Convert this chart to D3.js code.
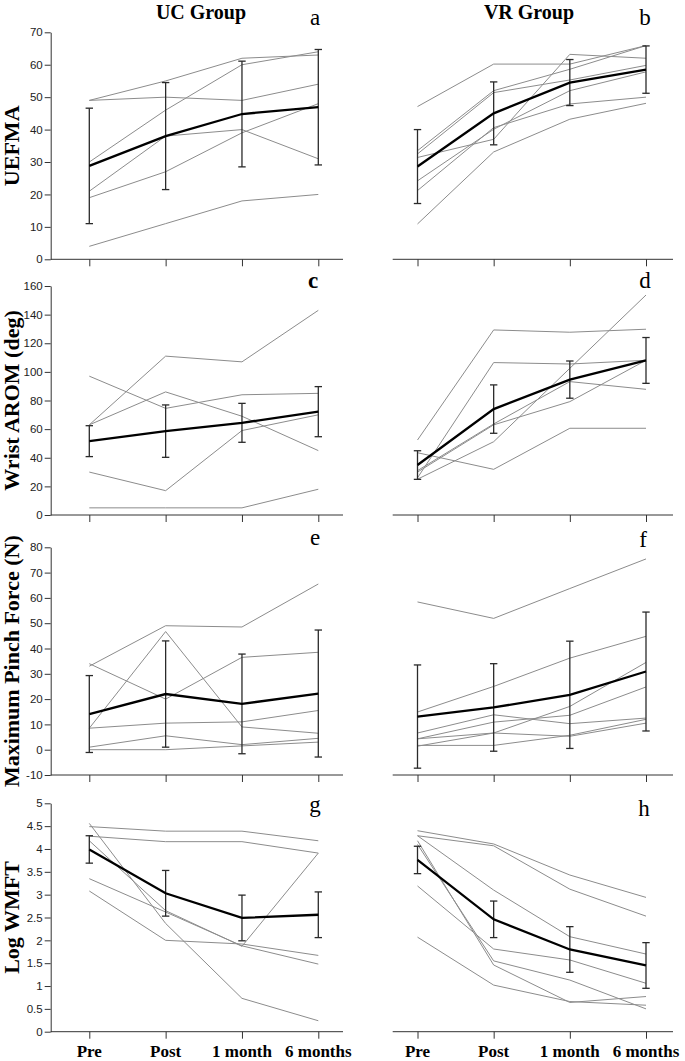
<!DOCTYPE html>
<html>
<head>
<meta charset="utf-8">
<script src="https://cdn.jsdelivr.net/npm/d3@7"></script>
<style>
  body { margin: 0; background: #fff; }
  svg { display: block; }
  .tick text { font-family: "Liberation Sans", Arial, sans-serif; font-size: 11.5px; fill: #222; }
  .tick line, .domain { stroke: #333; }
</style>
</head>
<body>
<script>
var W = 685, H = 1061;

var cats = ["Pre", "Post", "1 month", "6 months"];
var groups = ["UC Group", "VR Group"];
var yLabels = ["UEFMA", "Wrist AROM (deg)", "Maximum Pinch Force (N)", "Log WMFT"];
var tags = ["a", "b", "c", "d", "e", "f", "g", "h"];

// UEFMA
var ucUefma = [[49, 55, 62, 63], [49, 50, 49, 54], [30, 46, 60, 64], [21, 38, 40, 31], [19, 27, 39, 48], [4, 11, 18, 20]];
var ucUefmaMean = [28.8, 38, 44.8, 46.9];
var ucUefmaSd = [17.8, 16.5, 16.3, 17.8];
var vrUefma = [[47.1, 60.2, 60.2, 65.9], [33.5, 52, 58.6, 65.9], [31.4, 37, 63.2, 62], [32.5, 51.4, 55.3, 59.8],
               [24.2, 40.1, 52, 57.8], [21.2, 40.6, 47.9, 50], [10.9, 33.1, 43.2, 48.1]];
var vrUefmaMean = [28.6, 45, 54.5, 58.5];
var vrUefmaSd = [11.4, 9.7, 7.1, 7.3];

// wrist AROM
var ucWrist = [[63, 111, 107, 143], [63, 86, 69, 45], [97, 74.5, 84, 85], [30, 17, 59, 70], [5, 5, 5, 18]];
var ucWristMean = [51.6, 58.6, 64.4, 72.2];
var ucWristSd = [10.8, 18.3, 13.6, 17.5];
var vrWrist = [[52.4, 129.3, 127.7, 129.8], [26, 106.5, 105.5, 108.1], [25, 51.2, 102.5, 153.7],
               [43.5, 31.9, 60.6, 60.6], [31, 63.6, 93.2, 87.8], [30, 63, 79.2, 108.1]];
var vrWristMean = [34.9, 74, 94.6, 108];
var vrWristSd = [10, 16.9, 13, 16];

// pinch force
var ucPinch = [[33, 49, 48.5, 65.5], [34, 20, 36.5, 38.5], [8.5, 46.7, 9, 6.5], [8.5, 10.5, 11, 15.5],
               [1, 5.5, 2, 4.5], [0, 0, 1.5, 3]];
var ucPinchMean = [14.1, 22, 18.1, 22.2];
var ucPinchSd = [15.2, 21, 19.7, 25.1];
var vrPinch = [[58.4, 51.9, 63.7, 75.4], [14.9, 25, 36.2, 44.8], [6.6, 13.8, 10.3, 12.5], [4.3, 10.9, 13.6, 24.8],
               [4.3, 6.6, 17.1, 34.5], [1.7, 1.7, 5.7, 12], [1.4, 6.6, 5.3, 10.5]];
var vrPinchMean = [13.1, 16.7, 21.7, 30.9];
var vrPinchSd = [20.4, 17.3, 21.2, 23.5];

// log WMFT
var ucWmft = [[4.49, 4.39, 4.39, 4.18], [4.28, 4.16, 4.16, 3.91], [4.56, 2.37, 0.73, 0.24], [4.18, 2.65, 1.87, 3.91],
              [3.35, 2.62, 1.88, 1.48], [3.08, 2.0, 1.92, 1.67]];
var ucWmftMean = [3.99, 3.03, 2.49, 2.56];
var ucWmftSd = [0.3, 0.5, 0.5, 0.5];
var vrWmft = [[4.40, 4.11, 3.43, 2.94], [4.29, 4.07, 3.12, 2.53], [4.29, 3.10, 2.08, 1.70], [4.18, 1.46, 0.64, 0.77],
              [4.1, 1.55, 1.13, 0.50], [3.19, 1.81, 1.57, 1.06], [2.07, 1.02, 0.66, 0.58]];
var vrWmftMean = [3.76, 2.46, 1.80, 1.45];
var vrWmftSd = [0.3, 0.4, 0.5, 0.5];

var yDomains = [[0, 70], [0, 160], [-10, 80], [0, 5]];
var yTicks = [d3.range(0, 71, 10), d3.range(0, 161, 20), d3.range(-10, 81, 10), d3.range(0, 5.01, 0.5)];

var panels = [
  [{lines: ucUefma, mean: ucUefmaMean, sd: ucUefmaSd}, {lines: vrUefma, mean: vrUefmaMean, sd: vrUefmaSd}],
  [{lines: ucWrist, mean: ucWristMean, sd: ucWristSd}, {lines: vrWrist, mean: vrWristMean, sd: vrWristSd}],
  [{lines: ucPinch, mean: ucPinchMean, sd: ucPinchSd}, {lines: vrPinch, mean: vrPinchMean, sd: vrPinchSd}],
  [{lines: ucWmft, mean: ucWmftMean, sd: ucWmftSd}, {lines: vrWmft, mean: vrWmftMean, sd: vrWmftSd}]
];

// layout
var rowBands = [[259.3, 32.3], [515, 286], [775, 547.3], [1031.7, 803.3]];
var xs = [d3.scalePoint().domain(cats).range([89.3, 318.3]),
          d3.scalePoint().domain(cats).range([417.5, 646])];
var axisSpan = [[50.7, 343], [392.7, 673]];
var tagPos = [[315, 25], [645, 25], [313, 288], [645, 288], [315, 545], [643, 547], [315, 812], [644, 816]];
var serif = '"Liberation Serif", "Times New Roman", serif';

var svg = d3.select("body").append("svg")
  .attr("width", W)
  .attr("height", H);

groups.forEach(function(g, c){
  svg.append("text")
    .attr("x", c == 0 ? 201 : 529)
    .attr("y", 19)
    .attr("text-anchor", "middle")
    .attr("font-family", serif)
    .attr("font-weight", "bold")
    .attr("font-size", 20)
    .text(g);
});

panels.forEach(function(row, r){
  var y = d3.scaleLinear().domain(yDomains[r]).range(rowBands[r]);

  // y axis only on the left column
  svg.append("g")
    .attr("transform", "translate(" + axisSpan[0][0] + ",0)")
    .call(d3.axisLeft(y).tickValues(yTicks[r]).tickSize(6).tickPadding(2).tickSizeOuter(0)
      .tickFormat(function(d){ return String(+d.toFixed(1)); }));

  svg.append("text")
    .attr("transform", "translate(19," + ((rowBands[r][0] + rowBands[r][1]) / 2) + ") rotate(-90)")
    .attr("text-anchor", "middle")
    .attr("font-family", serif)
    .attr("font-weight", "bold")
    .attr("font-size", 22)
    .text(yLabels[r]);

  row.forEach(function(p, c){
    var x = xs[c],
        yBase = rowBands[r][0];

    var ax = svg.append("g")
      .attr("transform", "translate(0," + yBase + ")")
      .call(d3.axisBottom(x).tickSize(7).tickFormat(""));
    ax.select(".domain").remove();
    ax.append("line")
      .attr("x1", axisSpan[c][0]).attr("x2", axisSpan[c][1])
      .attr("stroke", "#333");

    var path = d3.line()
      .x(function(d, i){ return x(cats[i]); })
      .y(function(d){ return y(d); });

    // individual subjects
    svg.append("g").selectAll("path")
      .data(p.lines)
      .enter().append("path")
      .attr("d", path)
      .attr("fill", "none")
      .attr("stroke", "#8c8c8c")
      .attr("stroke-width", 1);

    // mean +/- sd
    var eb = svg.append("g").attr("stroke", "#2a2a2a").attr("stroke-width", 1.3);
    p.mean.forEach(function(m, i){
      var cx = x(cats[i]), lo = y(m - p.sd[i]), hi = y(m + p.sd[i]);
      eb.append("line").attr("x1", cx).attr("x2", cx).attr("y1", lo).attr("y2", hi);
      eb.append("line").attr("x1", cx - 3.7).attr("x2", cx + 3.7).attr("y1", lo).attr("y2", lo);
      eb.append("line").attr("x1", cx - 3.7).attr("x2", cx + 3.7).attr("y1", hi).attr("y2", hi);
    });

    svg.append("path")
      .attr("d", path(p.mean))
      .attr("fill", "none")
      .attr("stroke", "#000")
      .attr("stroke-width", 2.3);

    var k = r * 2 + c;
    svg.append("text")
      .attr("x", tagPos[k][0])
      .attr("y", tagPos[k][1])
      .attr("text-anchor", "middle")
      .attr("font-family", serif)
      .attr("font-weight", tags[k] == "c" ? "bold" : "normal")
      .attr("font-size", 23)
      .text(tags[k]);

    if (r == 3) {
      svg.append("g").selectAll("text")
        .data(cats)
        .enter().append("text")
        .attr("x", function(d){ return x(d); })
        .attr("y", 1056.5)
        .attr("text-anchor", "middle")
        .attr("font-family", serif)
        .attr("font-weight", "bold")
        .attr("font-size", 17)
        .text(function(d){ return d; });
    }
  });
});
</script>
</body>
</html>
